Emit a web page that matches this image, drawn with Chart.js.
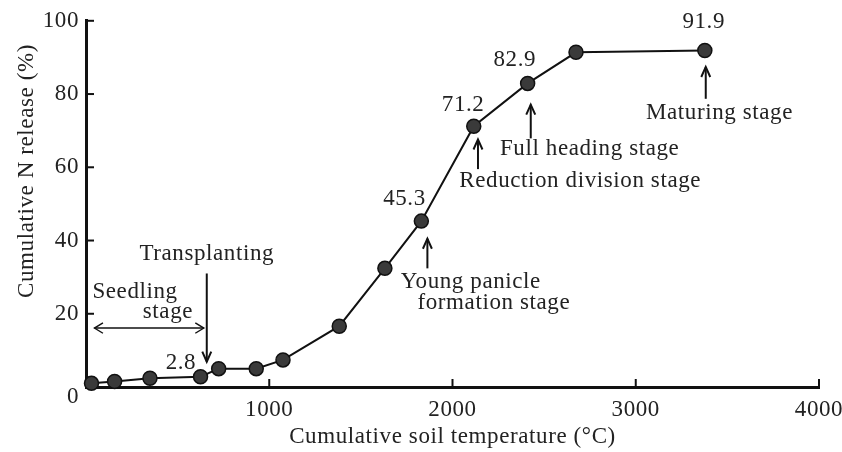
<!DOCTYPE html>
<html><head><meta charset="utf-8">
<script src="https://cdn.jsdelivr.net/npm/chart.js@4"></script>
<style>html,body{margin:0;padding:0;background:#fff}#w{width:842px;height:452px}</style>
</head><body><div id="w"><canvas id="c"></canvas></div>
<script>
// ---- data ----
const soilTemp = [30, 156, 349, 625, 724, 929, 1075, 1382, 1631, 1830, 2116, 2410, 2674, 3377];
const nRelease = [1.0, 1.5, 2.4, 2.8, 5.0, 5.0, 7.4, 16.6, 32.4, 45.3, 71.2, 82.9, 91.4, 91.9];
const xTicks = [0, 1000, 2000, 3000, 4000];
const yTicks = [0, 20, 40, 60, 80, 100];
const xTitle = 'Cumulative soil temperature (°C)';
const yTitle = 'Cumulative N release (%)';

// annotation texts (data coordinates)
const notes = [
  {t:'Transplanting', x:659, y:36.4, a:'center'},
  {t:'Seedling', x:35, y:25.9, a:'left'},
  {t:'stage', x:447, y:20.5, a:'center'},
  {t:'2.8', x:518, y:6.6, a:'center'},
  {t:'45.3', x:1738, y:51.4, a:'center'},
  {t:'Young panicle', x:1717, y:28.6, a:'left'},
  {t:'formation stage', x:1809, y:23.0, a:'left'},
  {t:'71.2', x:2058, y:77.1, a:'center'},
  {t:'Full heading stage', x:2259, y:64.9, a:'left'},
  {t:'Reduction division stage', x:2037, y:56.2, a:'left'},
  {t:'82.9', x:2340, y:89.3, a:'center'},
  {t:'91.9', x:3371, y:99.6, a:'center'},
  {t:'Maturing stage', x:3056, y:74.7, a:'left'}
];
// arrows: from (x,y0) to tip (x,y1)
const arrows = [
  {x0:659, y0:31.0, x1:659, y1:6.9},
  {x0:1863, y0:32.4, x1:1863, y1:40.5},
  {x0:2139, y0:59.5, x1:2139, y1:67.6},
  {x0:2427, y0:67.9, x1:2427, y1:77.1},
  {x0:3382, y0:78.7, x1:3382, y1:87.4}
];
const dblArrow = {x0:46, x1:643, y:16.1};

const FONT = '"Liberation Serif", "Times New Roman", serif';
const FS = 23;
const TXT = '#222';

function head(ctx, x, y, ang, len, open) {
  ctx.beginPath();
  ctx.moveTo(x - len*Math.cos(ang - open), y - len*Math.sin(ang - open));
  ctx.lineTo(x, y);
  ctx.lineTo(x - len*Math.cos(ang + open), y - len*Math.sin(ang + open));
  ctx.stroke();
}

const decor = {
  id: 'decor',
  beforeDraw(chart) { chart.ctx.letterSpacing = '0.6px'; },
  afterDraw(chart) {
    const ctx = chart.ctx, xs = chart.scales.x, ys = chart.scales.y;
    const ca = chart.chartArea;
    ctx.save();
    ctx.strokeStyle = '#111';
    ctx.lineWidth = 2;
    // inward tick marks
    xTicks.forEach(v => { if (v === 0) return; const p = xs.getPixelForValue(v);
      ctx.beginPath(); ctx.moveTo(p, ca.bottom); ctx.lineTo(p, ca.bottom - 8); ctx.stroke(); });
    yTicks.forEach(v => { if (v === 0) return; const p = ys.getPixelForValue(v);
      ctx.beginPath(); ctx.moveTo(ca.left, p); ctx.lineTo(ca.left + 8, p); ctx.stroke(); });
    // text
    ctx.fillStyle = TXT;
    ctx.font = FS + 'px ' + FONT;
    ctx.textBaseline = 'middle';
    ctx.letterSpacing = '0.6px';
    notes.forEach(n => { ctx.textAlign = n.a; ctx.fillText(n.t, xs.getPixelForValue(n.x), ys.getPixelForValue(n.y)); });
    // y-axis zero label
    ctx.textAlign = 'right';
    ctx.fillText('0', ca.left - 7, ys.getPixelForValue(0) + 10);
    // y title
    ctx.save();
    ctx.translate(27, 171);
    ctx.rotate(-Math.PI/2);
    ctx.textAlign = 'center';
    ctx.fillText(yTitle, 0, 0);
    ctx.restore();
    // arrows
    ctx.lineWidth = 2;
    arrows.forEach(a => {
      const x0 = xs.getPixelForValue(a.x0), y0 = ys.getPixelForValue(a.y0);
      const x1 = xs.getPixelForValue(a.x1), y1 = ys.getPixelForValue(a.y1);
      ctx.beginPath(); ctx.moveTo(x0, y0); ctx.lineTo(x1, y1); ctx.stroke();
      head(ctx, x1, y1, Math.atan2(y1 - y0, x1 - x0), 11, 0.42);
    });
    ctx.lineWidth = 1.4;
    const dx0 = xs.getPixelForValue(dblArrow.x0), dx1 = xs.getPixelForValue(dblArrow.x1), dy = ys.getPixelForValue(dblArrow.y);
    ctx.beginPath(); ctx.moveTo(dx0, dy); ctx.lineTo(dx1, dy); ctx.stroke();
    head(ctx, dx1, dy, 0, 10, 0.55);
    head(ctx, dx0, dy, Math.PI, 10, 0.55);
    ctx.restore();
  }
};

new Chart(document.getElementById('c'), {
  type: 'scatter',
  data: {
    datasets: [{
      data: soilTemp.map((x, i) => ({x: x, y: nRelease[i]})),
      showLine: true,
      borderColor: '#111',
      borderWidth: 2,
      pointRadius: 7,
      pointBackgroundColor: '#3a3a3a',
      pointBorderColor: '#111',
      pointBorderWidth: 1.5,
      clip: false
    }]
  },
  options: {
    responsive: true,
    maintainAspectRatio: false,
    animation: false,
    devicePixelRatio: 1,
    layout: {padding: {left: 0, right: 0, top: 18, bottom: 0}},
    plugins: {legend: {display: false}, tooltip: {enabled: false}},
    scales: {
      x: {
        type: 'linear', min: 0, max: 4000,
        afterBuildTicks: s => { s.ticks = xTicks.map(v => ({value: v})); },
        afterFit: s => { s.height = 65; s.paddingLeft = 0; s.paddingRight = 23; },
        grid: {display: false, drawTicks: false},
        border: {display: true, color: '#111', width: 3},
        ticks: {font: {family: FONT, size: FS}, color: TXT, padding: 9,
                callback: v => v === 0 ? '' : String(v), maxRotation: 0, autoSkip: false},
        title: {display: true, text: xTitle, font: {family: FONT, size: FS}, color: TXT, padding: {top: 0, bottom: 1}}
      },
      y: {
        min: 0, max: 100,
        afterBuildTicks: s => { s.ticks = yTicks.map(v => ({value: v})); },
        afterFit: s => { s.width = 86; },
        grid: {display: false, drawTicks: false},
        border: {display: true, color: '#111', width: 3},
        ticks: {font: {family: FONT, size: FS}, color: TXT, padding: 7,
                callback: v => v === 0 ? '' : String(v), autoSkip: false}
      }
    }
  },
  plugins: [decor]
});
</script>
</body></html>
